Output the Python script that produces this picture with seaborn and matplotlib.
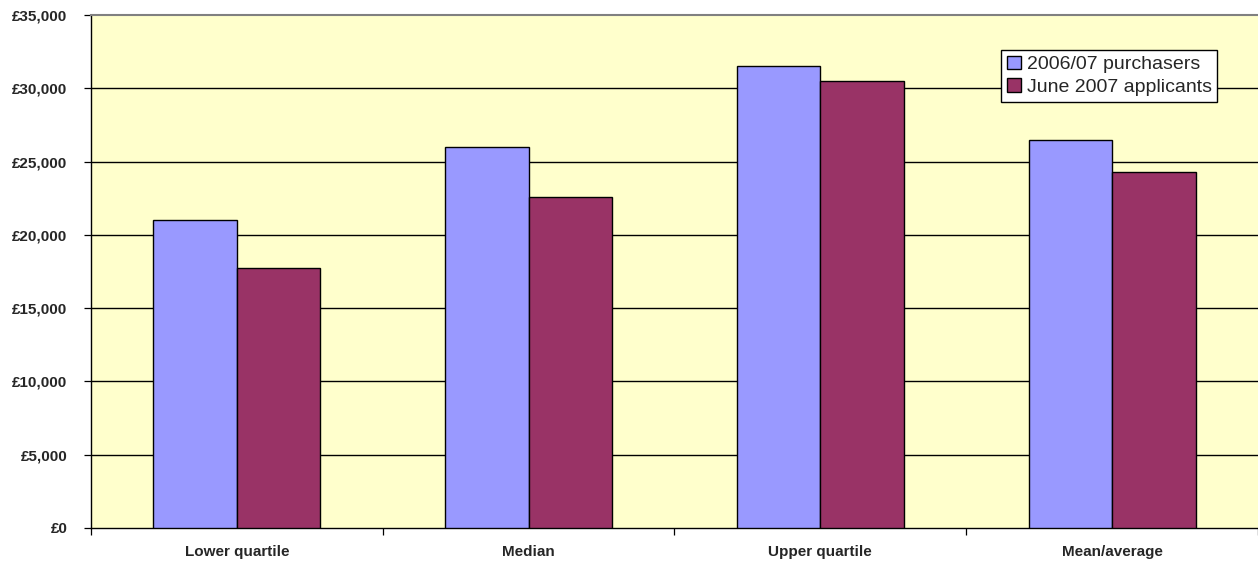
import pandas as pd
import matplotlib.pyplot as plt
import seaborn as sns
from matplotlib.ticker import FixedLocator, FuncFormatter

# podaci ocitani sa slike
categories = ['Lower quartile', 'Median', 'Upper quartile', 'Mean/average']
purchasers_2006 = [21000, 26000, 31500, 26500]
applicants_2007 = [17750, 22600, 30500, 24300]
series_names = ['2006/07 purchasers', 'June 2007 applicants']
y_ticks = [0, 5000, 10000, 15000, 20000, 25000, 30000, 35000]

df = pd.DataFrame({
    'category': categories * 2,
    'value': purchasers_2006 + applicants_2007,
    'series': [series_names[0]] * 4 + [series_names[1]] * 4,
})

sns.set_style('white')
plt.rcParams['font.family'] = ['Liberation Sans', 'DejaVu Sans']

fig = plt.figure(figsize=(12.58, 5.65), dpi=100)
ax = fig.add_axes([0.0723, 0.0655, 0.9277, 0.908])
ax.set_facecolor('#FFFFCC')

sns.barplot(data=df, x='category', y='value', hue='series', ax=ax,
            palette=['#9999FF', '#993366'], width=0.573,
            edgecolor='black', linewidth=1, saturation=1, zorder=3)

ax.set_ylim(0, 35000)
ax.set_xlim(-0.5, 3.5)
ax.set_yticks(y_ticks)
ax.yaxis.set_major_formatter(FuncFormatter(lambda v, p: '£{:,.0f}'.format(v)))
for t in y_ticks[1:-1]:
    ax.axhline(t, color='black', lw=1, zorder=1)

ax.set_xlabel('')
ax.set_ylabel('')
ax.tick_params(axis='x', which='major', length=0, pad=12)
ax.xaxis.set_minor_locator(FixedLocator([-0.5, 0.5, 1.5, 2.5, 3.5]))
ax.tick_params(axis='x', which='minor', length=5, width=0.9, color='black', bottom=True)
ax.tick_params(axis='y', length=5, width=0.9, color='black', left=True, pad=12)
for lab in ax.get_xticklabels() + ax.get_yticklabels():
    lab.set_fontweight('bold')
    lab.set_fontsize(11)

for s in ['left', 'bottom']:
    ax.spines[s].set_color('black')
    ax.spines[s].set_linewidth(1)
ax.spines['top'].set_color('#808080')
ax.spines['top'].set_linewidth(1.5)
ax.spines['right'].set_visible(False)

leg = ax.legend(loc='upper left', bbox_to_anchor=(0.78, 0.932), borderaxespad=0,
                frameon=True, fancybox=False, edgecolor='black', framealpha=1,
                fontsize=14, handlelength=0.7, handleheight=0.7, handletextpad=0.3,
                borderpad=0.3, labelspacing=0.25)
leg.get_frame().set_linewidth(1)
leg.get_frame().set_facecolor('white')

fig.savefig('out.png', dpi=100)
